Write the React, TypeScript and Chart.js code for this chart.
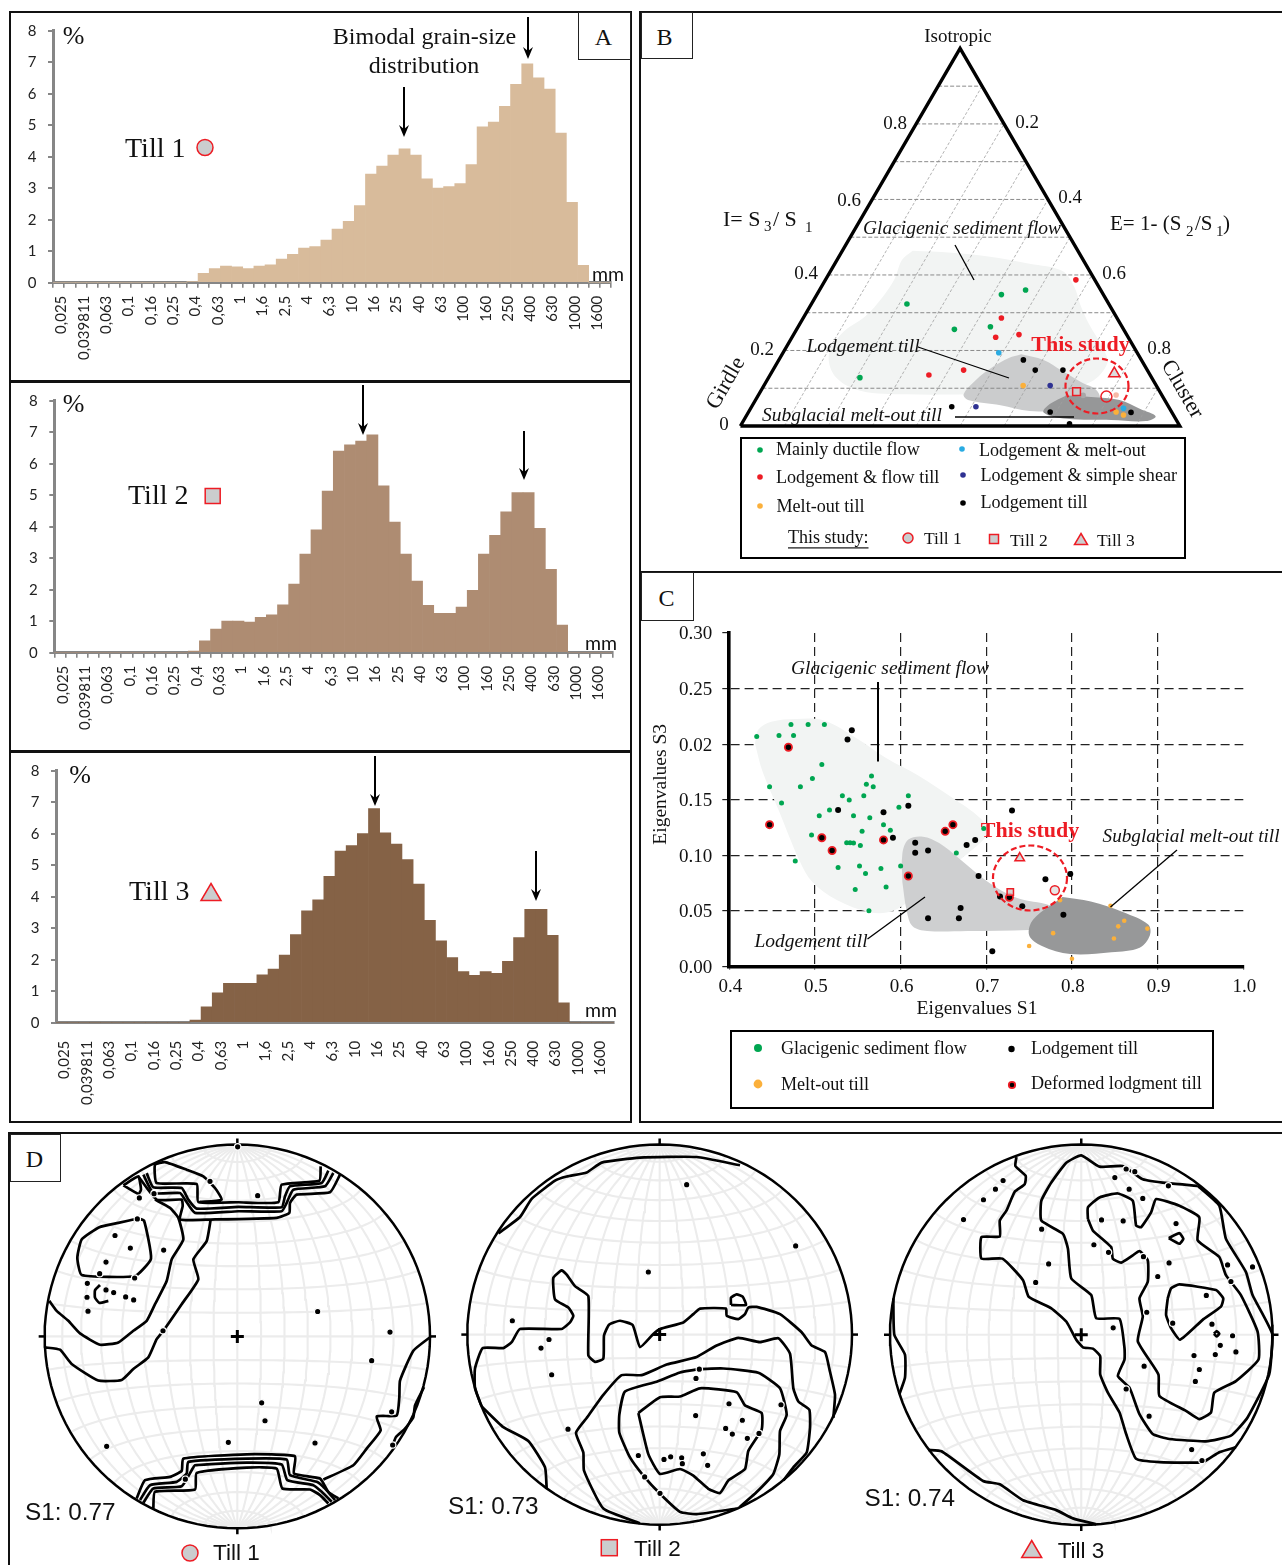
import React, { useEffect, useRef } from "react";
import { Chart, registerables } from "chart.js";

Chart.register(...registerables);

/* ---------- data: grain size histograms ---------- */
const grainSizes = ["0,025","0,0315","0,039811","0,05","0,063","0,08","0,1","0,125","0,16","0,2","0,25","0,315","0,4","0,5","0,63","0,8","1","1,25","1,6","2","2,5","3,15","4","5","6,3","8","10","12,5","16","20","25","31,5","40","50","63","80","100","125","160","200","250","315","400","500","630","800","1000","1250","1600","2000"];
const till1Percent = [0,0,0,0,0,0,0,0,0,0,0,0,0.03,0.3,0.45,0.53,0.5,0.45,0.53,0.57,0.75,0.9,1.1,1.15,1.35,1.7,1.95,2.45,3.45,3.7,4.05,4.25,4.05,3.3,3.0,3.05,3.15,3.75,4.95,5.1,5.6,6.3,6.95,6.5,6.15,4.75,2.55,0.55,0,0];
const till2Percent = [0,0,0,0,0,0,0,0,0,0,0,0,0.05,0.38,0.75,1.0,1.0,0.97,1.12,1.2,1.52,2.18,3.13,3.9,5.13,6.4,6.6,6.72,6.92,5.3,4.15,3.13,2.27,1.5,1.25,1.25,1.45,1.98,3.13,3.73,4.47,5.08,5.08,3.95,2.65,0.88,0,0,0,0];
const till3Percent = [0,0,0,0,0,0,0,0,0,0,0,0,0.08,0.5,0.95,1.25,1.25,1.25,1.52,1.7,2.15,2.8,3.55,3.9,4.65,5.45,5.62,6.0,6.8,6.03,5.67,5.18,4.4,3.25,2.6,2.07,1.62,1.5,1.62,1.57,1.95,2.7,3.6,3.6,2.77,0.63,0,0,0,0];

/* ---------- data: fabric shape ternary (E, I) ---------- */
const ternaryTicks = [0.1,0.2,0.3,0.4,0.5,0.6,0.7,0.8,0.9];
const ductileFlow = [[.2175,.323],[.42,.348],[.469,.36],[.359,.256],[.4375,.263],[.208,.128]];
const lodgementFlow = [[.57,.387],[.451,.286],[.4635,.235],[.513,.242],[.3615,.135],[.434,.148]];
const lodgementMeltOut = [[.491,.194],[.8485,.047]];
const ternaryMeltOut = [[.59,.107],[.8365,.037],[.8575,.029]];
const lodgementShear = [[.6515,.107],[.5105,.051]];
const ternaryLodgement = [[.5565,.175],[.597,.148],[.66,.148],[.4555,.051],[.6865,.037],[.746,.006],[.871,.036]];
const ternaryGreyDots = [[.7395,.081]];
const ternaryPinkDots = [[.814,.082]];
const ternaryTill1 = [[.794,.078]];
const ternaryTill2 = [[.7195,.091]];
const ternaryTill3 = [[.7815,.139]];
// outlines as (horizontal position in the triangle, I)
const ternaryFlowArea = [[.392,.464],[.48,.459],[.564,.449],[.658,.43],[.732,.411],[.76,.368],[.774,.32],[.793,.271],[.826,.204],[.835,.166],[.798,.117],[.704,.089],[.518,.084],[.378,.084],[.275,.093],[.219,.127],[.201,.185],[.229,.243],[.285,.291],[.322,.339],[.35,.387],[.368,.44],[.392,.464]];
const ternaryLodgementArea = [[.639,.19],[.69,.175],[.732,.146],[.774,.117],[.812,.093],[.816,.064],[.751,.042],[.658,.04],[.592,.055],[.518,.069],[.508,.084],[.536,.122],[.574,.156],[.611,.18],[.639,.19]];
const ternaryMeltArea = [[.742,.081],[.798,.077],[.863,.069],[.91,.045],[.945,.026],[.923,.013],[.844,.016],[.742,.019],[.69,.036],[.704,.058],[.742,.081]];

/* ---------- data: eigenvalues S1 / S3 ---------- */
const s1Ticks = [0.4,0.5,0.6,0.7,0.8,0.9,1.0];
const eigenFlow = [[.432,.2068],[.458,.2077],[.475,.2077],[.472,.2176],[.492,.2176],[.511,.2176],[.508,.1816],[.497,.1691],[.447,.1618],[.483,.1618],[.461,.1471],[.532,.1535],[.54,.1497],[.56,.164],[.566,.1713],[.568,.1618],[.557,.1535],[.609,.1535],[.598,.1433],[.517,.1407],[.505,.1356],[.545,.1356],[.564,.1337],[.58,.1276],[.588,.1225],[.555,.1216],[.496,.1184],[.537,.1114],[.541,.1114],[.545,.111],[.553,.1088],[.477,.0948],[.527,.089],[.552,.0903],[.577,.0881],[.6,.0903],[.559,.0836],[.583,.0715],[.547,.0692],[.563,.0501],[.665,.1021],[.697,.1241]];
const eigenLodgement = [[.543,.2125],[.538,.2042],[.527,.1407],[.58,.1388],[.609,.1445],[.73,.1404],[.591,.1158],[.617,.1114],[.617,.1024],[.632,.1043],[.677,.1094],[.687,.1139],[.691,.0814],[.769,.0785],[.798,.0833],[.716,.0629],[.742,.0542],[.67,.0526],[.632,.0434],[.668,.0434],[.79,.0466],[.707,.0137]];
const eigenDeformed = [[.469,.1972],[.447,.1276],[.508,.1158],[.52,.1043],[.58,.1139],[.652,.1216],[.661,.1276],[.609,.0814],[.727,.0622]];
const eigenMeltOut = [[.786,.0597],[.845,.0546],[.861,.0412],[.854,.0361],[.888,.0341],[.778,.03],[.849,.0252],[.75,.0185],[.8,.007]];
const eigenTill1 = [[.78,.0686]];
const eigenTill2 = [[.728,.067]];
const eigenTill3 = [[.739,.0976]];
const eigenFlowArea = [[.43,.2004],[.434,.2131],[.449,.2202],[.478,.2227],[.511,.2211],[.549,.2052],[.583,.1876],[.621,.1717],[.659,.1525],[.693,.1334],[.702,.1206],[.678,.1015],[.65,.0855],[.621,.0664],[.592,.0504],[.564,.0488],[.525,.06],[.497,.0759],[.482,.0951],[.458,.1398],[.439,.1749],[.43,.2004]];
const eigenLodgementArea = [[.602,.0759],[.602,.1015],[.609,.1142],[.626,.1168],[.645,.111],[.669,.0967],[.702,.0759],[.736,.0616],[.774,.0552],[.793,.0472],[.798,.0345],[.75,.0329],[.678,.0319],[.631,.0319],[.614,.0361],[.607,.0504],[.602,.0759]];
const eigenMeltArea = [[.789,.0625],[.822,.0584],[.86,.0488],[.889,.0377],[.891,.0281],[.879,.0169],[.846,.0128],[.798,.0112],[.765,.0185],[.75,.0281],[.755,.0424],[.789,.0625]];

/* ---------- data: stereonets, in net units ---------- */
const net1Contours = [
  [[413,262],[355,275],[298,288],[245,325],[232,380],[245,432],[405,435],[453,383],[432,268],[413,262]],
  [[300,462],[285,478],[285,500],[298,516],[325,510]],
  [[148,510],[170,540],[205,570],[240,608],[300,642],[355,635],[400,600],[440,570],[465,520],[500,450],[515,385],[550,325],[535,260],[510,230],[465,205]],
  [[135,650],[180,657],[215,700],[295,750],[365,748],[400,715],[445,680],[470,625],[490,600],[545,520],[595,445],[580,385],[620,330],[632,265]],
  [[962,105],[958,148],[845,160],[835,213],[715,213],[595,212],[590,158],[470,155],[465,100],[495,92],[560,115],[610,135],[645,170],[665,205],[600,212]],
  [[985,118],[965,155],[870,165],[855,195],[845,228],[715,227],[590,232],[565,205],[545,170],[460,168],[440,125]],
  [[1000,125],[975,165],[880,175],[860,215],[845,240],[715,240],[585,245],[555,205],[540,185],[460,185],[430,130]],
  [[1020,130],[990,183],[890,190],[870,215],[868,245],[830,260],[632,265],[540,265],[548,225],[545,205],[470,205],[415,135]],
  [[370,162],[415,135],[423,175],[415,188],[370,162]],
  [[410,1105],[435,1050],[510,1040],[545,1022],[550,985],[740,972],[885,978],[882,1030],[960,1045],[985,1085],[1015,1105]],
  [[420,1110],[450,1065],[530,1055],[560,1030],[565,995],[740,985],[860,988],[870,1035],[950,1055],[975,1075],[1005,1110]],
  [[430,1118],[460,1075],[545,1068],[575,1020],[585,1005],[740,997],[845,1003],[862,1050],[940,1065],[965,1085],[995,1115]],
  [[460,1135],[465,1085],[585,1078],[590,1028],[740,1012],[830,1015],[847,1075],[930,1078],[960,1095],[985,1120]],
  [[1292,618],[1240,660],[1200,750],[1198,800],[1190,855],[1130,858],[1142,900],[1100,955],[1060,1005],[970,1048]],
  [[1272,770],[1245,825],[1240,860],[1215,895],[1188,920],[1178,945]],
];
const net1Poles = [[713,46],[630,150],[773,193],[418,200],[462,187],[412,263],[345,313],[391,351],[491,357],[318,393],[299,428],[404,441],[262,457],[318,477],[341,485],[261,499],[377,498],[401,507],[264,541],[489,600],[953,542],[1170,604],[1115,690],[785,817],[795,871],[1175,844],[1178,944],[945,938],[685,936],[320,948],[556,1047]];
const net2Contours = [
  [[175,300],[240,250],[275,195],[345,140],[380,127],[440,115],[485,85],[600,70],[770,68],[900,93]],
  [[125,825],[105,770],[105,710],[128,648],[190,648],[215,630],[240,590],[365,590],[390,570],[400,550],[385,525],[345,500],[340,435],[365,412],[380,425],[405,460],[445,490],[445,670],[465,690],[490,680],[492,610],[507,577],[540,565],[578,578],[600,645],[640,605],[660,590],[730,570],[760,545],[780,528],[858,528],[860,550],[895,560],[915,545],[925,525],[950,523],[1020,545],[1085,600],[1115,640],[1155,660],[1170,720],[1185,790],[1180,860]],
  [[873,517],[873,495],[890,485],[908,492],[918,517],[873,517]],
  [[600,1180],[490,1135],[432,1020],[430,965],[408,905],[440,860],[490,790],[545,730],[605,730],[680,698],[770,675],[830,640],[895,617],[960,630],[1015,618],[1050,665],[1060,770],[1075,810],[1108,835],[1110,890],[1100,965],[1060,1010],[1030,1050]],
  [[890,1135],[770,1152],[720,1145],[660,1090],[610,1035],[570,980],[538,905],[538,850],[555,780],[650,750],[720,722],[778,712],[850,710],[955,723],[1020,770],[1040,850],[1020,900],[1018,970],[1000,1030],[950,1085],[900,1130]],
  [[595,845],[660,797],[720,795],[780,770],[890,782],[915,822],[965,845],[965,895],[925,960],[915,1015],[865,1050],[840,1088],[805,1075],[760,1035],[720,1015],[660,1030],[625,970],[595,845]],
  [[125,825],[190,888],[265,930],[315,1010],[320,1075]],
];
const net2Poles = [[740,152],[1067,338],[625,417],[217,565],[327,622],[303,648],[335,729],[384,894],[778,712],[768,740],[867,817],[767,853],[1023,820],[907,867],[857,892],[877,909],[957,907],[922,922],[595,974],[672,986],[692,978],[725,981],[727,999],[790,969],[803,1004],[614,1039],[660,1089]];
const net3Contours = [
  [[470,73],[467,100],[498,130],[495,155],[465,178],[440,235],[420,265],[420,313],[365,315],[365,380],[428,380],[490,445],[507,495],[575,530],[620,570],[650,625],[670,648],[700,652],[722,675],[722,730],[745,785],[780,845],[800,910],[830,985],[900,995],[1030,995],[1080,965],[1130,950]],
  [[1015,160],[925,152],[850,140],[790,100],[720,102],[665,68],[620,90],[575,150],[545,205],[545,265],[610,305],[625,350],[635,440],[695,490],[710,560],[780,562],[795,650],[795,685],[775,735],[810,770],[840,850],[880,910],[930,925],[1040,932],[1115,915],[1165,860],[1230,730],[1240,610],[1180,490],[1160,420],[1100,320],[1080,220],[1015,160]],
  [[685,260],[685,225],[720,195],[775,183],[820,205],[830,280],[845,285],[875,240],[890,200],[960,220],[1020,255],[1015,325],[1080,375],[1100,430],[1145,490],[1195,600],[1198,685],[1130,750],[1065,785],[1055,845],[1020,865],[980,840],[900,795],[897,730],[835,630],[850,555],[840,500],[865,450],[865,385],[840,357],[820,370],[785,392],[760,380],[755,345],[700,295],[685,260]],
  [[925,500],[935,470],[960,458],[1070,475],[1092,500],[1085,525],[1030,565],[962,625],[935,590],[920,550],[925,500]],
  [[928,318],[960,303],[972,320],[960,335],[928,318]],
  [[1064,607],[1072,599],[1080,607],[1072,615],[1064,607]],
  [[100,500],[103,610],[135,670],[135,740],[118,790]],
  [[205,958],[245,962],[370,1052],[420,1062],[490,1110],[590,1140],[640,1165],[710,1183]],
];
const net3Poles = [[430,144],[407,170],[371,202],[311,262],[546,291],[567,396],[528,452],[800,109],[826,117],[766,135],[809,170],[850,198],[927,160],[726,263],[791,266],[950,274],[703,338],[747,361],[852,374],[929,393],[895,434],[1105,399],[1180,405],[1115,449],[1041,491],[862,542],[940,575],[761,589],[1058,578],[1120,613],[1083,642],[1130,662],[1068,670],[1004,673],[1020,715],[1008,751],[854,705],[800,774],[869,856],[997,957],[1028,990]];

/* ---------- text styles ---------- */
const SERIF = '"Liberation Serif", "Times New Roman", serif';
const SANS = '"Liberation Sans", Arial, sans-serif';
const LATO = 'Lato, sans-serif';
const RED = "#ED1C24";
const SWATCH = "#CBCDCE";

type Note = any;
const T = (s: string, x: number, y: number, font: string, o: any = {}): Note => ({ k: "t", s, x, y: y + 1.3, font, ...o });
const L = (x1: number, y1: number, x2: number, y2: number, w = 1.3, c = "#000"): Note => ({ k: "l", x1, y1, x2, y2, w, c });
const ARROW = (x: number, y1: number, y2: number): Note => ({ k: "a", x, y1, y2 });
const DOT = (x: number, y: number, r: number, c: string, st?: string, lw?: number): Note => ({ k: "d", x, y, r, c, st, lw });
const RECT = (x: number, y: number, s: number, c: string, st: string, lw = 1.5): Note => ({ k: "r", x, y, s, c, st, lw });
const TRI = (x: number, y: number, w: number, h: number, c: string, st: string, lw = 1.5): Note => ({ k: "v", x, y, w, h, c, st, lw });
const ELL = (x: number, y: number, rx: number, ry: number): Note => ({ k: "e", x, y, rx, ry });

const notesPlugin = {
  id: "notes",
  afterDraw(chart: any, _a: any, opts: any) {
    const items: Note[] = opts.items || [];
    const ctx = chart.ctx;
    ctx.save();
    ctx.translate(-(opts.ox || 0), -(opts.oy || 0));
    for (const n of items) {
      ctx.save();
      ctx.setLineDash([]);
      if (n.k === "t") {
        ctx.translate(n.x, n.y);
        if (n.rot) ctx.rotate((n.rot * Math.PI) / 180);
        ctx.font = n.font;
        ctx.fillStyle = n.c || "#111";
        ctx.textAlign = n.a || "center";
        ctx.textBaseline = "middle";
        ctx.fillText(n.s, 0, 0);
        if (n.u) {
          const w = ctx.measureText(n.s).width;
          ctx.fillRect(0, 9, w, 1.2);
        }
      } else if (n.k === "l") {
        ctx.strokeStyle = n.c; ctx.lineWidth = n.w;
        ctx.beginPath(); ctx.moveTo(n.x1, n.y1); ctx.lineTo(n.x2, n.y2); ctx.stroke();
      } else if (n.k === "a") {
        ctx.strokeStyle = "#000"; ctx.fillStyle = "#000"; ctx.lineWidth = 2;
        ctx.beginPath(); ctx.moveTo(n.x, n.y1); ctx.lineTo(n.x, n.y2 - 6); ctx.stroke();
        ctx.beginPath(); ctx.moveTo(n.x - 5, n.y2 - 12); ctx.lineTo(n.x, n.y2 - 8); ctx.lineTo(n.x + 5, n.y2 - 12); ctx.lineTo(n.x, n.y2); ctx.closePath(); ctx.fill();
      } else if (n.k === "d") {
        ctx.beginPath(); ctx.arc(n.x, n.y, n.r, 0, Math.PI * 2);
        ctx.fillStyle = n.c; ctx.fill();
        if (n.st) { ctx.strokeStyle = n.st; ctx.lineWidth = n.lw || 1.5; ctx.stroke(); }
      } else if (n.k === "r") {
        ctx.fillStyle = n.c; ctx.strokeStyle = n.st; ctx.lineWidth = n.lw;
        ctx.fillRect(n.x - n.s / 2, n.y - n.s / 2, n.s, n.s);
        ctx.strokeRect(n.x - n.s / 2, n.y - n.s / 2, n.s, n.s);
      } else if (n.k === "v") {
        ctx.fillStyle = n.c; ctx.strokeStyle = n.st; ctx.lineWidth = n.lw;
        ctx.beginPath(); ctx.moveTo(n.x, n.y - n.h / 2); ctx.lineTo(n.x + n.w / 2, n.y + n.h / 2); ctx.lineTo(n.x - n.w / 2, n.y + n.h / 2); ctx.closePath();
        ctx.fill(); ctx.stroke();
      } else if (n.k === "e") {
        ctx.strokeStyle = RED; ctx.lineWidth = 2.2; ctx.setLineDash([6, 3]);
        ctx.beginPath(); ctx.ellipse(n.x, n.y, n.rx, n.ry, 0, 0, Math.PI * 2); ctx.stroke();
      }
      ctx.restore();
    }
    ctx.restore();
  },
};
Chart.register(notesPlugin as any);

const pts = (a: number[][]) => a.map(([x, y]) => ({ x, y }));
const ternaryPts = (a: number[][]) => a.map(([e, i]) => ({ x: e + i / 2, y: i }));

const lineDs = (data: any[], color: string, width: number, order: number, extra: any = {}) => ({
  type: "scatter", data, showLine: true, pointRadius: 0, borderColor: color, borderWidth: width,
  order, clip: false, ...extra,
});
const areaDs = (data: any[], color: string, order: number) =>
  lineDs(data, "rgba(0,0,0,0)", 0, order, { fill: "shape", backgroundColor: color, tension: 0.35 });
const dotDs = (data: any[], color: string, r = 2.8, extra: any = {}) => ({
  type: "scatter", data, pointRadius: r, pointBackgroundColor: color, pointBorderColor: color, pointBorderWidth: 0,
  showLine: false, order: 0, clip: false, ...extra,
});
const markDs = (data: any[], style: string, r: number, fill: string) => ({
  type: "scatter", data, pointStyle: style, pointRadius: r, pointBackgroundColor: fill, pointBorderColor: RED,
  pointBorderWidth: 1.5, showLine: false, order: 0, clip: false,
});
const base = (items: Note[], ox: number, oy: number, padding: any) => ({
  responsive: false, animation: false, events: [],
  layout: { padding },
  plugins: { legend: { display: false }, tooltip: { enabled: false }, notes: { items, ox, oy } },
});

/* ---------- A: histograms ---------- */
function histogram(box: number[], values: number[], color: string, plot: number[], ticksX: boolean, items: Note[]) {
  const [ox, oy, w, h] = box;
  const [left, top, right, bottom] = plot;
  const grey = "#868686";
  return {
    box,
    config: {
      type: "bar",
      data: { labels: grainSizes, datasets: [{ data: values, backgroundColor: color, barPercentage: 1, categoryPercentage: 1, borderWidth: 0 }] },
      options: {
        ...base(items, ox, oy, { left: 0, top: top - oy, right: ox + w - right, bottom: 0 }),
        scales: {
          x: {
            type: "category",
            afterFit: (s: any) => { s.height = oy + h - bottom; s.paddingLeft = 0; s.paddingRight = 0; },
            grid: { display: ticksX, drawOnChartArea: false, color: grey, tickColor: grey, tickLength: 5, lineWidth: 1.6 },
            border: { color: grey, width: 3 },
            ticks: { autoSkip: false, minRotation: 90, maxRotation: 90, padding: ticksX ? 8 : 13, labelOffset: 3, color: "#222", font: { family: LATO, size: 15 },
              callback: (_v: any, i: number) => (i % 2 === 0 ? grainSizes[i] : "") },
          },
          y: {
            min: 0, max: 8,
            afterFit: (s: any) => { s.width = left - ox; s.paddingTop = 0; s.paddingBottom = 0; },
            grid: { drawOnChartArea: false, color: grey, tickColor: grey, tickLength: 5, lineWidth: 2 },
            border: { color: grey, width: 3 },
            ticks: { stepSize: 1, padding: 11.5, color: "#222", font: { family: LATO, size: 15 } },
          },
        },
      },
    },
  };
}

const FT = `26px ${SERIF}`;
const MM = `19.5px ${LATO}`;
const histA = histogram([13, 15, 616, 364], till1Percent, "#D8BB9B", [53, 30.7, 611, 282.7], true, [
  T("%", 73.5, 36, FT),
  T("Bimodal grain-size", 424.5, 36, `24px ${SERIF}`),
  T("distribution", 424, 65, `24px ${SERIF}`),
  ARROW(528, 17, 59), ARROW(404, 87, 137),
  T("Till 1", 125, 148, `28px ${SERIF}`, { a: "left" }),
  DOT(205, 147.5, 8, SWATCH, RED),
  T("mm", 608, 273, MM),
]);
const histB = histogram([13, 383, 616, 366], till2Percent, "#AE8C72", [54.3, 400.7, 612.3, 652.7], true, [
  T("%", 73.5, 404, FT),
  ARROW(363, 385, 435), ARROW(524, 431, 480),
  T("Till 2", 128, 495, `28px ${SERIF}`, { a: "left" }),
  RECT(212.7, 496, 15, SWATCH, RED),
  T("mm", 601, 642, MM),
]);
const histC = histogram([13, 753, 616, 367], till3Percent, "#856246", [56, 770.7, 614, 1022.7], false, [
  T("%", 80, 775, FT),
  ARROW(375, 756, 806), ARROW(536, 851, 901),
  T("Till 3", 129, 891, `28px ${SERIF}`, { a: "left" }),
  TRI(211, 892, 20, 17, SWATCH, RED),
  T("mm", 601, 1009, MM),
]);

/* ---------- B: ternary ---------- */
const F19 = `19px ${SERIF}`;
const I19 = `italic 19.5px ${SERIF}`;
const LG = `18.1px ${SERIF}`;
const ternaryItems: Note[] = [
  T("Isotropic", 958, 36, F19),
  T("0.8", 895, 123, F19), T("0.2", 1027, 122, F19), T("0.6", 849, 200, F19), T("0.4", 1070, 197, F19),
  T("0.4", 806, 273, F19), T("0.6", 1114, 273, F19), T("0.2", 762, 349, F19), T("0.8", 1159, 348, F19), T("0", 724, 424, F19),
  T("I= S", 723, 219, `22px ${SERIF}`, { a: "left" }), T("3", 764, 226, `15px ${SERIF}`, { a: "left" }),
  T("/ S", 773, 219, `22px ${SERIF}`, { a: "left" }), T("1", 805, 227, `15px ${SERIF}`, { a: "left" }),
  T("E= 1- (S", 1110, 223, `21px ${SERIF}`, { a: "left" }), T("2", 1186, 231, `15px ${SERIF}`, { a: "left" }),
  T("/S", 1195, 223, `21px ${SERIF}`, { a: "left" }), T("1", 1216, 231, `15px ${SERIF}`, { a: "left" }), T(")", 1223, 223, `21px ${SERIF}`, { a: "left" }),
  T("Girdle", 726, 382, `22px ${SERIF}`, { rot: -60 }),
  T("Cluster", 1182, 388, `22px ${SERIF}`, { rot: 60 }),
  T("Glacigenic sediment flow", 962, 228, I19),
  T("Lodgement till", 863, 345.5, I19),
  T("Subglacial melt-out till", 852, 414.5, I19),
  L(955, 245, 974, 280), L(918, 347, 1009, 378), L(955, 417, 1074, 417, 1.6),
  T("This study", 1080.5, 344, `bold 22px ${SERIF}`, { c: RED }),
  ELL(1097, 386, 31.5, 27.5),
  L(741, 438, 1185, 438, 2), L(741, 558, 1185, 558, 2), L(741, 437, 741, 559, 2), L(1185, 437, 1185, 559, 2),
  DOT(760, 450, 2.8, "#00A651"), T("Mainly ductile flow", 776, 449, LG, { a: "left" }),
  DOT(760, 477, 2.8, RED), T("Lodgement & flow till", 776, 477, LG, { a: "left" }),
  DOT(760, 506, 2.8, "#FBB03B"), T("Melt-out till", 776.5, 506, LG, { a: "left" }),
  DOT(962, 449, 2.8, "#29ABE2"), T("Lodgement & melt-out", 979, 450, LG, { a: "left" }),
  DOT(963, 475, 2.8, "#2E3192"), T("Lodgement & simple shear", 980.5, 475, LG, { a: "left" }),
  DOT(963, 503, 2.8, "#000"), T("Lodgement till", 980.5, 502, LG, { a: "left" }),
  T("This study:", 788, 537, `18px ${SERIF}`, { a: "left", u: true }),
  DOT(908, 538, 5, SWATCH, RED), T("Till 1", 924, 538, `17.5px ${SERIF}`, { a: "left" }),
  RECT(994, 539, 9, SWATCH, RED), T("Till 2", 1010, 540, `17.5px ${SERIF}`, { a: "left" }),
  TRI(1081, 539, 13, 11, SWATCH, RED), T("Till 3", 1097, 540, `17.5px ${SERIF}`, { a: "left" }),
];
const gridColor = "#8a8a8a";
const ternaryGrid = [
  ...ternaryTicks.map((i) => lineDs([{ x: i / 2, y: i }, { x: 1 - i / 2, y: i }], gridColor, 1, 1, { borderDash: [4, 2] })),
  ...ternaryTicks.map((e) => lineDs([{ x: e, y: 0 }, { x: e + (1 - e) / 2, y: 1 - e }], "#a0a0a0", 0.8, 1, { borderDash: [3, 2] })),
];
const ternaryBox = [642, 14, 640, 556];
const ternary = {
  box: ternaryBox,
  config: {
    type: "scatter",
    data: {
      datasets: [
        markDs(ternaryPts(ternaryTill1), "circle", 5.5, "rgba(0,0,0,0)"),
        markDs(ternaryPts(ternaryTill2), "rect", 5.5, "rgba(205,205,205,.5)"),
        markDs(ternaryPts(ternaryTill3), "triangle", 6.5, "rgba(205,205,205,.7)"),
        dotDs(ternaryPts(ductileFlow), "#00A651"),
        dotDs(ternaryPts(lodgementFlow), RED),
        dotDs(ternaryPts(lodgementMeltOut), "#29ABE2"),
        dotDs(ternaryPts(ternaryMeltOut), "#FBB03B"),
        dotDs(ternaryPts(lodgementShear), "#2E3192"),
        dotDs(ternaryPts(ternaryLodgement), "#000"),
        dotDs(ternaryPts(ternaryGreyDots), "#A8A8A8"),
        dotDs(ternaryPts(ternaryPinkDots), "#F6B9A6"),
        lineDs(pts([[0, 0], [0.5, 1], [1, 0], [0, 0]]), "#000", 3.4, 1, { borderJoinStyle: "miter" }),
        ...ternaryGrid,
        areaDs(pts(ternaryMeltArea), "#969798", 2),
        areaDs(pts(ternaryLodgementArea), "#CBCCCD", 3),
        areaDs(pts(ternaryFlowArea), "#F2F4F3", 4),
      ],
    },
    options: {
      ...base(ternaryItems, 642, 14, { left: 740.4 - 642, top: 48.4 - 14, right: 642 + 640 - 1179.8, bottom: 14 + 556 - 426 }),
      scales: { x: { display: false, type: "linear", min: 0, max: 1 }, y: { display: false, type: "linear", min: 0, max: 1 } },
    },
  },
};

/* ---------- C: eigenvalues ---------- */
const eigenItems: Note[] = [
  T("Glacigenic sediment flow", 890, 668, I19),
  L(878, 682, 878, 761.5, 2),
  T("This study", 1030, 830, `bold 22px ${SERIF}`, { c: RED }),
  T("Subglacial melt-out till", 1191, 836, `italic 19.2px ${SERIF}`),
  L(1177, 850, 1110.5, 907),
  T("Lodgement till", 811, 940.5, I19),
  L(867.5, 939, 925, 897),
  T("Eigenvalues S1", 977, 1008, `19.5px ${SERIF}`),
  T("Eigenvalues S3", 661, 783, `19.5px ${SERIF}`, { rot: -90 }),
  ELL(1030, 878, 37, 32.5),
  L(731, 1031, 1213, 1031, 2), L(731, 1108, 1213, 1108, 2), L(731, 1030, 731, 1109, 2), L(1213, 1030, 1213, 1109, 2),
  DOT(758, 1048, 4, "#00A651"), T("Glacigenic sediment flow", 781, 1048, LG, { a: "left" }),
  DOT(758, 1084, 4.4, "#FBB03B"), T("Melt-out till", 781, 1084, LG, { a: "left" }),
  DOT(1011.5, 1049, 3.2, "#000"), T("Lodgement till", 1031, 1048, LG, { a: "left" }),
  DOT(1012, 1085, 3.2, "#000", RED, 1.8), T("Deformed lodgment till", 1031, 1083, LG, { a: "left" }),
];
const eigenBox = [642, 574, 640, 546];
const hideAt = (vals: number[]) => (ctx: any) => (ctx.tick && vals.some((v) => Math.abs(v - ctx.tick.value) < 1e-6) ? "rgba(0,0,0,0)" : "#222");
const eigen = {
  box: eigenBox,
  config: {
    type: "scatter",
    data: {
      datasets: [
        markDs(pts(eigenTill1), "circle", 4.5, "rgba(205,205,205,.5)"),
        markDs(pts(eigenTill2), "rect", 4.5, "rgba(205,205,205,.8)"),
        markDs(pts(eigenTill3), "triangle", 5.5, "rgba(205,205,205,.8)"),
        dotDs(pts(eigenDeformed), "#000", 3.6, { pointBorderColor: RED, pointBorderWidth: 1.8 }),
        dotDs(pts(eigenLodgement), "#000", 3),
        dotDs(pts(eigenFlow), "#00A651", 2.5),
        dotDs(pts(eigenMeltOut), "#FBB03B", 2.3),
        areaDs(pts(eigenMeltArea), "#979899", 6),
        areaDs(pts(eigenLodgementArea), "#CECFD0", 7),
        areaDs(pts(eigenFlowArea), "#F2F4F3", 8),
      ],
    },
    options: {
      ...base(eigenItems, 642, 574, { left: 0, top: 633 - 574, right: 642 + 640 - 1243.3, bottom: 0 }),
      scales: {
        x: {
          type: "linear", min: 0.4, max: 1.0,
          afterFit: (s: any) => { s.height = 574 + 546 - 966.5; s.paddingLeft = 0; s.paddingRight = 0; },
          afterBuildTicks: (s: any) => { s.ticks = s1Ticks.map((value) => ({ value })); },
          grid: { color: hideAt([0.4, 1.0]), tickColor: "#222", tickLength: 3, lineWidth: 1.2 },
          border: { color: "#000", width: 3.6, dash: [9, 5], z: 1 },
          ticks: { padding: 6, labelOffset: 1, color: "#111", font: { family: SERIF, size: 19 }, callback: (v: any) => Number(v).toFixed(1), autoSkip: false, maxRotation: 0 },
        },
        y: {
          type: "linear", min: 0, max: 0.3,
          afterFit: (s: any) => { s.width = 729.3 - 642; s.paddingTop = 0; s.paddingBottom = 0; },
          grid: { color: hideAt([0, 0.3]), tickColor: "#222", tickLength: 7, lineWidth: 1.2 },
          border: { color: "#000", width: 3.6, dash: [9, 5], z: 1 },
          ticks: { stepSize: 0.05, padding: 10, labelOffset: 1.5, color: "#111", font: { family: SERIF, size: 19 },
            callback: (v: any) => (Math.abs(v - 0.2) < 1e-6 ? "0.02" : Number(v).toFixed(2)) },
        },
      },
    },
  },
};

/* ---------- D: stereonets ---------- */
const graticuleSteps = [-80,-70,-60,-50,-40,-30,-20,-10,0,10,20,30,40,50,60,70,80];
function graticule(cx: number, cy: number, r: number) {
  const rad = Math.PI / 180;
  const toNet = (lon: number, lat: number) => {
    const d = Math.sqrt(1 + Math.cos(lat * rad) * Math.cos(lon * rad));
    return { x: cx + (r * Math.cos(lat * rad) * Math.sin(lon * rad)) / d, y: cy - (r * Math.sin(lat * rad)) / d };
  };
  const lines: any[] = [];
  for (const lon of graticuleSteps) {
    const a = [];
    for (let lat = -90; lat <= 90; lat += 3) a.push(toNet(lon, lat));
    lines.push(a);
  }
  for (const lat of graticuleSteps) {
    const a = [];
    for (let lon = -90; lon <= 90; lon += 3) a.push(toNet(lon, lat));
    lines.push(a);
  }
  return lines;
}
function stereonet(box: number[], originX: number, net: number[], contours: number[][][], poles: number[][], items: Note[]) {
  const [ox, oy, w, h] = box;
  const [cx, cy, r] = net;
  const left = originX + (cx - r) / 3, right = originX + (cx + r) / 3;
  const top = 1130 + (cy - r) / 3, bottom = 1130 + (cy + r) / 3;
  const rim = [];
  for (let a = 0; a <= 360; a += 3) rim.push({ x: cx + r * Math.cos((a * Math.PI) / 180), y: cy + r * Math.sin((a * Math.PI) / 180) });
  const tick = 18;
  return {
    box,
    config: {
      type: "scatter",
      data: {
        datasets: [
          { type: "scatter", data: [{ x: cx, y: cy }], pointStyle: "cross", pointRadius: 6.5, pointBorderColor: "#000", pointBorderWidth: 3, order: 0, clip: false },
          dotDs(pts(poles), "#000", 3.2, { pointBorderColor: "#fff", pointBorderWidth: 1.2 }),
          lineDs(rim, "#000", 2.5, 1),
          lineDs(pts([[cx - r - tick, cy], [cx - r, cy]]), "#000", 2.5, 1),
          lineDs(pts([[cx + r, cy], [cx + r + tick, cy]]), "#000", 2.5, 1),
          lineDs(pts([[cx, cy - r - tick], [cx, cy - r]]), "#000", 2.5, 1),
          lineDs(pts([[cx, cy + r], [cx, cy + r + tick]]), "#000", 2.5, 1),
          ...contours.map((c) => lineDs(pts(c), "#000", 2.7, 2, { tension: 0.15 })),
          ...graticule(cx, cy, r).map((g) => lineDs(g, "#ECECEC", 2.1, 5)),
        ],
      },
      options: {
        ...base(items, ox, oy, { left: left - ox, top: top - oy, right: ox + w - right, bottom: oy + h - bottom }),
        scales: {
          x: { display: false, type: "linear", min: cx - r, max: cx + r },
          y: { display: false, type: "linear", min: cy - r, max: cy + r, reverse: true },
        },
      },
    },
  };
}
const S1 = `24.3px ${SANS}`;
const TL = `22.5px ${SANS}`;
const net1 = stereonet([12, 1135, 428, 430], 0, [712, 617, 578], net1Contours, net1Poles, [
  T("S1: 0.77", 25, 1512, S1, { a: "left" }),
  DOT(190, 1553, 8, SWATCH, RED), T("Till 1", 213, 1552, TL, { a: "left" }),
]);
const net2 = stereonet([445, 1135, 417, 430], 440, [659, 607, 577], net2Contours, net2Poles, [
  T("S1: 0.73", 448, 1505.7, S1, { a: "left" }),
  RECT(609.3, 1547.7, 16, SWATCH, RED), T("Till 2", 634, 1548, TL, { a: "left" }),
]);
const net3 = stereonet([862, 1135, 420, 430], 860, [665, 610, 575], net3Contours, net3Poles, [
  T("S1: 0.74", 864.5, 1497.7, S1, { a: "left" }),
  TRI(1031.7, 1549, 20, 17, SWATCH, RED), T("Till 3", 1057.7, 1550, TL, { a: "left" }),
]);

const charts = [histA, histB, histC, ternary, eigen, net1, net2, net3];

/* ---------- frames ---------- */
const frames = [
  [9, 11, 623, 371], [9, 381, 623, 371], [9, 751, 623, 372],
  [639, 11, 660, 562], [639, 571, 660, 552], [8, 1132, 1290, 450],
];
const letterBoxes: [string, number, number, number, number][] = [
  ["A", 578, 12, 53, 48], ["B", 641, 12, 52, 47], ["C", 641, 572, 53, 49], ["D", 10, 1134, 51, 48],
];

function PanelChart({ item }: { item: any }) {
  const ref = useRef<HTMLCanvasElement | null>(null);
  useEffect(() => {
    const chart = new Chart(ref.current as any, item.config);
    return () => chart.destroy();
  }, []);
  const [x, y, w, h] = item.box;
  return <canvas ref={ref} width={w} height={h} style={{ position: "absolute", left: x, top: y, width: w, height: h, display: "block" }} />;
}

export default function App() {
  return (
    <div style={{ position: "absolute", left: 0, top: 0, width: 1282, height: 1565, overflow: "hidden", background: "#fff" }}>
      {frames.map(([x, y, w, h], i) => (
        <div key={i} style={{ position: "absolute", left: x, top: y, width: w, height: h, boxSizing: "border-box", border: "2.5px solid #111" }} />
      ))}
      {letterBoxes.map(([s, x, y, w, h]) => (
        <div key={s} style={{ position: "absolute", left: x, top: y, width: w, height: h, boxSizing: "border-box", border: "1px solid #222", paddingTop: 3, paddingRight: s === "B" ? 5 : 2, font: `24px ${SERIF}`, color: "#111", display: "flex", alignItems: "center", justifyContent: "center" }}>{s}</div>
      ))}
      {charts.map((c, i) => <PanelChart key={i} item={c} />)}
    </div>
  );
}
